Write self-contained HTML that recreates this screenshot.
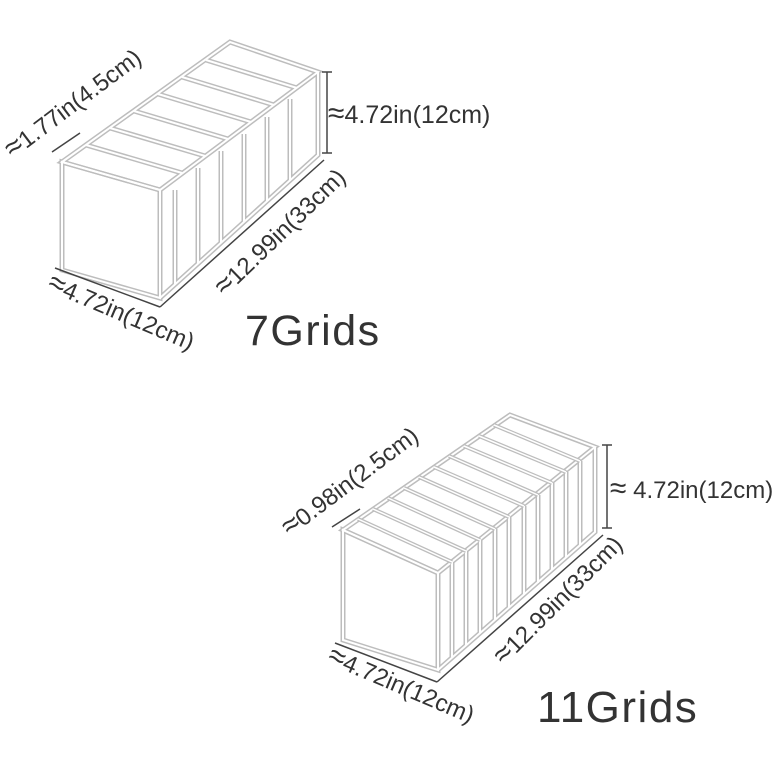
<!DOCTYPE html>
<html><head><meta charset="utf-8"><style>
html,body{margin:0;padding:0;background:#fff;}
svg{display:block;}
text{font-family:"Liberation Sans",sans-serif;fill:#333;}
.o{fill:none;stroke:#bdbdbd;stroke-width:5;stroke-linejoin:miter;}
.i{fill:none;stroke:#fff;stroke-width:2;stroke-linejoin:miter;}
.d{stroke:#444;stroke-width:1.5;fill:none;}
.s{font-size:30px;}
</style></head><body>
<svg width="782" height="782" viewBox="0 0 782 782" xmlns="http://www.w3.org/2000/svg">
<g class="o">
<polygon points="62,162 160,190 160,298 62,270"/>
<polygon points="62,162 230,42 318,72 160,190"/>
<polyline points="160,298 318,155 318,72"/>
<line x1="175" y1="190" x2="175" y2="285"/>
<line x1="198" y1="168" x2="198" y2="264"/>
<line x1="221" y1="151" x2="221" y2="243"/>
<line x1="244" y1="134" x2="244" y2="222"/>
<line x1="267" y1="117" x2="267" y2="201"/>
<line x1="290" y1="99" x2="290" y2="180"/>
<line x1="86" y1="145" x2="182" y2="173"/>
<line x1="110" y1="128" x2="205" y2="156"/>
<line x1="134" y1="111" x2="228" y2="139"/>
<line x1="158" y1="94" x2="251" y2="122"/>
<line x1="182" y1="77" x2="274" y2="105"/>
<line x1="206" y1="60" x2="297" y2="88"/>
</g>
<g class="i">
<polygon points="62,162 160,190 160,298 62,270"/>
<polygon points="62,162 230,42 318,72 160,190"/>
<polyline points="160,298 318,155 318,72"/>
<line x1="175" y1="190" x2="175" y2="285"/>
<line x1="198" y1="168" x2="198" y2="264"/>
<line x1="221" y1="151" x2="221" y2="243"/>
<line x1="244" y1="134" x2="244" y2="222"/>
<line x1="267" y1="117" x2="267" y2="201"/>
<line x1="290" y1="99" x2="290" y2="180"/>
<line x1="86" y1="145" x2="182" y2="173"/>
<line x1="110" y1="128" x2="205" y2="156"/>
<line x1="134" y1="111" x2="228" y2="139"/>
<line x1="158" y1="94" x2="251" y2="122"/>
<line x1="182" y1="77" x2="274" y2="105"/>
<line x1="206" y1="60" x2="297" y2="88"/>
</g>
<g class="d">
<line x1="327" y1="72" x2="327" y2="153"/><line x1="322" y1="72" x2="332" y2="72"/><line x1="322" y1="153" x2="332" y2="153"/>
<line x1="52" y1="152" x2="80" y2="133"/>
<line x1="55" y1="268" x2="160" y2="307"/>
<line x1="160" y1="307" x2="324" y2="160"/>
</g>
<text x="0" y="0" font-size="24" text-anchor="middle" transform="translate(78,110) rotate(-37)"><tspan class="s">≈</tspan>1.77in(4.5cm)</text>
<text x="328" y="123" font-size="25"><tspan class="s">≈</tspan>4.72in(12cm)</text>
<text x="0" y="0" font-size="24" text-anchor="middle" transform="translate(286,238) rotate(-44)"><tspan class="s">≈</tspan>12.99in(33cm)</text>
<text x="0" y="0" font-size="24" text-anchor="middle" transform="translate(118,320) rotate(23)"><tspan class="s">≈</tspan>4.72in(12cm)</text>
<text x="245" y="345" font-size="43" letter-spacing="1.5">7Grids</text>

<g class="o">
<polygon points="343,530 438,573 438,670 343,640"/>
<polygon points="343,530 510,415 595,447 438,573"/>
<polyline points="438,670 595,532 595,447"/>
<line x1="452" y1="562" x2="452" y2="657"/>
<line x1="466" y1="551" x2="466" y2="645"/>
<line x1="480" y1="540" x2="480" y2="633"/>
<line x1="495" y1="529" x2="495" y2="620"/>
<line x1="509" y1="517" x2="509" y2="608"/>
<line x1="524" y1="506" x2="524" y2="595"/>
<line x1="538" y1="495" x2="538" y2="583"/>
<line x1="552" y1="483" x2="552" y2="570"/>
<line x1="566" y1="472" x2="566" y2="558"/>
<line x1="580" y1="461" x2="580" y2="545"/>
</g>
<g class="i">
<polygon points="343,530 438,573 438,670 343,640"/>
<polygon points="343,530 510,415 595,447 438,573"/>
<polyline points="438,670 595,532 595,447"/>
<line x1="452" y1="562" x2="452" y2="657"/>
<line x1="466" y1="551" x2="466" y2="645"/>
<line x1="480" y1="540" x2="480" y2="633"/>
<line x1="495" y1="529" x2="495" y2="620"/>
<line x1="509" y1="517" x2="509" y2="608"/>
<line x1="524" y1="506" x2="524" y2="595"/>
<line x1="538" y1="495" x2="538" y2="583"/>
<line x1="552" y1="483" x2="552" y2="570"/>
<line x1="566" y1="472" x2="566" y2="558"/>
<line x1="580" y1="461" x2="580" y2="545"/>
</g>
<g class="o" style="stroke-width:4">
<line x1="358" y1="519" x2="452" y2="562"/><line x1="373" y1="509" x2="466" y2="551"/><line x1="388" y1="498" x2="480" y2="540"/><line x1="404" y1="488" x2="495" y2="529"/><line x1="419" y1="477" x2="509" y2="517"/><line x1="434" y1="467" x2="524" y2="506"/><line x1="449" y1="456" x2="538" y2="495"/><line x1="464" y1="446" x2="552" y2="483"/><line x1="479" y1="436" x2="566" y2="472"/><line x1="494" y1="425" x2="580" y2="461"/>
</g>
<g class="i" style="stroke-width:1.5">
<line x1="358" y1="519" x2="452" y2="562"/><line x1="373" y1="509" x2="466" y2="551"/><line x1="388" y1="498" x2="480" y2="540"/><line x1="404" y1="488" x2="495" y2="529"/><line x1="419" y1="477" x2="509" y2="517"/><line x1="434" y1="467" x2="524" y2="506"/><line x1="449" y1="456" x2="538" y2="495"/><line x1="464" y1="446" x2="552" y2="483"/><line x1="479" y1="436" x2="566" y2="472"/><line x1="494" y1="425" x2="580" y2="461"/>
</g>
<g class="d">
<line x1="607" y1="445" x2="607" y2="528"/><line x1="602" y1="445" x2="612" y2="445"/><line x1="602" y1="528" x2="612" y2="528"/>
<line x1="332" y1="527" x2="360" y2="509"/>
<line x1="335" y1="643" x2="437" y2="682"/>
<line x1="437" y1="682" x2="603" y2="535"/>
</g>
<text x="0" y="0" font-size="24" text-anchor="middle" transform="translate(355,488) rotate(-37)"><tspan class="s">≈</tspan>0.98in(2.5cm)</text>
<text x="610" y="498" font-size="24"><tspan class="s">≈</tspan> 4.72in(12cm)</text>
<text x="0" y="0" font-size="24" text-anchor="middle" transform="translate(564,606) rotate(-45)"><tspan class="s">≈</tspan>12.99in(33cm)</text>
<text x="0" y="0" font-size="24" text-anchor="middle" transform="translate(398,693) rotate(23)"><tspan class="s">≈</tspan>4.72in(12cm)</text>
<text x="537" y="722" font-size="44" letter-spacing="1.5">11Grids</text>
</svg>
</body></html>
